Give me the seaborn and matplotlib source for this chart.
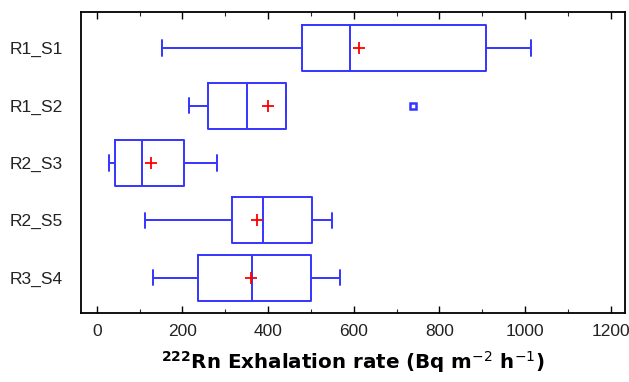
import matplotlib
matplotlib.use("Agg")
import matplotlib.pyplot as plt
from matplotlib.ticker import MultipleLocator
import seaborn as sns
import pandas as pd

# Values (five-number readings per site; R1_S2 max is an outlier)
categories = ["R1_S1", "R1_S2", "R2_S3", "R2_S5", "R3_S4"]
r1_s1 = [153, 479, 591, 910, 1014]
r1_s2 = [216, 259, 352, 443, 738]
r2_s3 = [28, 43.5, 105, 204, 280]
r2_s5 = [112, 316, 389, 503, 549]
r3_s4 = [131, 236.5, 363, 500, 568]
means = [613, 401, 126, 375, 361]
xticks = [0, 200, 400, 600, 800, 1000, 1200]

groups = [r1_s1, r1_s2, r2_s3, r2_s5, r3_s4]
df = pd.DataFrame({
    "site": [c for c, g in zip(categories, groups) for _ in g],
    "rate": [v for g in groups for v in g],
})
mean_df = pd.DataFrame({"site": categories, "mean": means})

sns.set_style("white")
plt.rcParams["font.family"] = ["Liberation Sans", "DejaVu Sans"]

blue = "#3535ff"
fig = plt.figure(figsize=(6.29, 3.82), dpi=100)
ax = fig.add_axes([0.1288, 0.1798, 0.8648, 0.7888])

sns.boxplot(data=df, x="rate", y="site", order=categories, orient="h",
            fill=False, color=blue, linewidth=1.4, width=0.8, whis=1.5,
            capwidths=0.27,
            flierprops=dict(marker="s", markersize=5, markeredgecolor=blue,
                            markerfacecolor="white", markeredgewidth=1.8),
            ax=ax)
sns.scatterplot(data=mean_df, x="mean", y="site", marker="+", color="red",
                s=70, linewidth=1.3, zorder=5, ax=ax)

ax.set_xlim(-36.7, 1233.5)
ax.set_ylim(4.62, -0.63)
ax.set_xticks(xticks)
ax.xaxis.set_minor_locator(MultipleLocator(100))
ax.tick_params(axis="x", which="major", direction="in", length=5, width=1,
               top=True, bottom=True, labelsize=12.5, pad=8, colors="black")
ax.tick_params(axis="x", which="minor", direction="in", length=3, width=0.8,
               top=True, bottom=True)
ax.tick_params(axis="y", length=0, labelsize=12.5, pad=13)
for t in ax.get_xticklabels() + ax.get_yticklabels():
    t.set_color("#222222")
for s in ax.spines.values():
    s.set_visible(True)
    s.set_color("black")
    s.set_linewidth(1.3)
ax.set_ylabel("")
ax.set_xlabel(r"$^{\mathbf{222}}$Rn Exhalation rate (Bq m$^{-2}$ h$^{-1}$)",
              fontsize=14.3, fontweight="bold", family="DejaVu Sans",
              labelpad=7, color="black")

fig.savefig("out.png", dpi=100)
